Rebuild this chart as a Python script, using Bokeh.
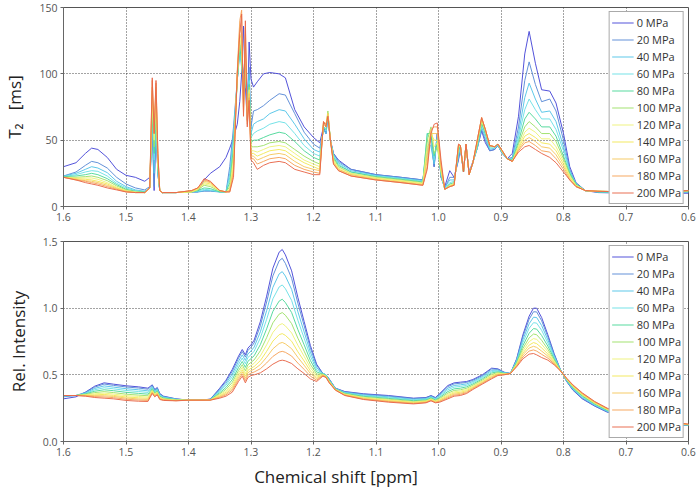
from bokeh.plotting import figure
from bokeh.layouts import column
from bokeh.models import Range1d, FixedTicker, PrintfTickFormatter, Div
from bokeh.embed import file_html
from bokeh.resources import INLINE

pressures = ["0 MPa", "20 MPa", "40 MPa", "60 MPa", "80 MPa", "100 MPa",
             "120 MPa", "140 MPa", "160 MPa", "180 MPa", "200 MPa"]
colors = ["#4a4ad8", "#5b8bd6", "#55c5e8", "#6ee0e6", "#4fd89a", "#9ee06a",
          "#eef27a", "#f2e85a", "#f5c860", "#f5a35a", "#e8674a"]

x_ticks = [1.6, 1.5, 1.4, 1.3, 1.2, 1.1, 1.0, 0.9, 0.8, 0.7, 0.6]
t2_ticks = [0, 50, 100, 150]
ri_ticks = [0.0, 0.5, 1.0, 1.5]

# ---------- top panel: T2 [ms] ----------
ppm_t = [1.600, 1.580, 1.565, 1.555, 1.545, 1.530, 1.515, 1.500, 1.485, 1.470,
         1.462, 1.458, 1.455, 1.452, 1.449, 1.446, 1.442,
         1.420, 1.395, 1.385, 1.375, 1.365, 1.350, 1.340,
         1.334, 1.328, 1.322, 1.318, 1.315, 1.312, 1.309, 1.306, 1.303, 1.300, 1.296,
         1.290, 1.280, 1.270, 1.255, 1.245, 1.230, 1.215, 1.200, 1.190,
         1.184, 1.180, 1.177, 1.173, 1.168, 1.160, 1.140, 1.100, 1.060, 1.025,
         1.018, 1.012, 1.007, 1.002, 0.996, 0.990, 0.982, 0.975,
         0.968, 0.965, 0.960, 0.956, 0.951, 0.945, 0.938, 0.931, 0.925, 0.918, 0.910, 0.905, 0.898, 0.890, 0.882,
         0.872, 0.862, 0.855, 0.845, 0.835, 0.822, 0.812, 0.800, 0.790, 0.780, 0.765, 0.745, 0.700, 0.650, 0.600]

t2_0 = [30, 33, 40, 44, 43, 37, 28, 23.5, 22, 19,
        22, 60, 12, 58, 25, 12, 10.5,
        10.5, 11, 11, 20, 25, 30, 37,
        44, 52, 62, 79, 100, 136, 90, 65, 124, 96, 90,
        94, 100, 101, 100, 97, 73, 60, 52, 48,
        60, 55, 68, 50, 40, 35, 28, 24, 22, 20,
        40, 55, 30, 55, 22, 15, 27, 22,
        35, 44, 26, 46, 26, 34, 44, 57, 48, 42, 43, 46, 40, 36, 40,
        68, 115, 132, 108, 88, 87, 78, 55, 30, 18, 12, 10.5, 10, 10, 10]
t2_20 = [23, 26, 31, 34, 33, 29, 22, 17, 14, 12.5,
         15, 62, 15, 60, 25, 12, 10.5,
         10.5, 11, 11, 11.5, 11.5, 11, 11,
         30, 60, 95, 120, 110, 100, 115, 80, 105, 60, 72,
         73, 76, 80, 85, 84, 70, 56, 47, 44,
         58, 55, 68, 50, 40, 34, 28, 24, 22, 20,
         45, 50, 30, 55, 22, 14, 22, 22,
         36, 44, 26, 46, 25, 33, 44, 58, 50, 42, 43, 46, 40, 36, 37,
         60, 95, 109, 92, 79, 81, 72, 50, 28, 17, 12, 11, 10.5, 10.5, 10.5]
t2_40 = [23, 25, 28, 30, 29, 25.5, 19, 15, 12.5, 11.5,
         14, 65, 25, 63, 25, 12, 10.5,
         10.5, 11, 11, 12, 12, 11, 11,
         25, 55, 95, 115, 105, 95, 112, 78, 100, 55, 62,
         64, 66, 70, 73, 72, 62, 51, 43, 41,
         58, 55, 68, 50, 39, 33, 27, 23.5, 21.5, 19.5,
         50, 45, 32, 52, 23, 14, 20, 20,
         38, 45, 26, 47, 25, 33, 44, 60, 52, 43, 44, 46, 40, 36, 36,
         55, 82, 93, 81, 71, 72, 64, 45, 27, 17, 12, 11, 10.5, 10.5, 11]
t2_60 = [22.5, 24, 26, 27, 26.5, 23, 17.5, 14, 12, 11,
         14, 66, 35, 65, 25, 12, 10.5,
         10.5, 11, 11.5, 13, 12.5, 11, 11,
         22, 50, 95, 118, 108, 90, 110, 75, 95, 52, 55,
         57, 59, 62, 64, 63, 55, 46, 40, 38,
         60, 57, 70, 50, 38, 32, 26, 23, 21, 19,
         55, 50, 35, 50, 24, 13, 18, 19,
         40, 45, 26, 47, 25, 33, 45, 62, 54, 44, 44, 46, 41, 36, 35,
         52, 73, 81, 73, 66, 66, 58, 42, 26, 17, 12, 11, 10.5, 11, 11]
t2_80 = [22.5, 23, 24, 25, 24, 21, 16.5, 13, 11.5, 11,
         14, 70, 40, 70, 28, 12, 10.5,
         10.5, 11, 12, 14, 13.5, 11, 11,
         18, 45, 95, 120, 110, 85, 108, 73, 92, 48, 50,
         50, 52, 54, 56, 55, 49, 42, 37, 35,
         60, 58, 70, 50, 37, 31, 26, 22.5, 20.5, 18.5,
         55, 55, 38, 48, 25, 13, 17, 18,
         42, 46, 26, 47, 24, 33, 46, 63, 55, 45, 45, 47, 41, 36, 35,
         49, 66, 71, 66, 60, 60, 53, 38, 25, 17, 12, 11, 11, 11, 11.5]
t2_100 = [22, 22, 22.5, 23, 22, 19.5, 15.5, 12.5, 11, 10.5,
          14, 75, 45, 75, 30, 12, 10.5,
          10.5, 11, 12.5, 16, 15, 11.5, 11,
          15, 40, 95, 125, 115, 80, 110, 70, 90, 45, 45,
          45, 46, 48, 49, 48, 43, 38, 34, 32,
          62, 60, 72, 50, 36, 30, 25, 22, 20, 18,
          50, 60, 40, 45, 26, 13, 16, 17,
          44, 46, 26, 47, 24, 33, 47, 64, 56, 46, 45, 47, 41, 36, 34,
          47, 60, 64, 60, 55, 55, 49, 36, 24, 16, 12, 11.5, 11, 11, 11.5]
t2_120 = [22, 21.5, 21.5, 21.5, 20.5, 18, 14.5, 12, 11, 10.5,
          14, 82, 50, 82, 32, 12, 10.5,
          10.5, 11, 13, 17, 16, 12, 11,
          13, 35, 98, 128, 120, 78, 115, 68, 88, 42, 42,
          41, 43, 45, 46, 45, 40, 35, 32, 30,
          62, 60, 70, 50, 35, 29, 25, 21.5, 19.5, 17.5,
          45, 58, 45, 48, 27, 13, 16, 17,
          45, 46, 26, 47, 24, 33, 48, 65, 57, 46, 45, 47, 41, 36, 34,
          45, 56, 59, 56, 51, 51, 45, 34, 23, 16, 12, 11.5, 11, 11, 12]
t2_140 = [22, 21, 20.5, 20, 19, 17, 14, 11.5, 10.5, 10.5,
          14, 87, 55, 86, 35, 12, 10.5,
          10.5, 11, 13, 18, 17, 12, 11,
          12, 30, 100, 130, 125, 75, 120, 66, 86, 40, 40,
          38, 40, 42, 43, 42, 37, 33, 30, 28,
          63, 62, 70, 50, 34, 28, 24, 21, 19, 17,
          40, 55, 50, 50, 28, 13, 15, 17,
          46, 46, 26, 47, 24, 33, 49, 66, 58, 46, 45, 47, 42, 36, 34,
          44, 53, 55, 52, 48, 47, 42, 32, 22, 16, 12, 11.5, 11, 11, 12]
t2_160 = [22, 20.5, 19.5, 19, 18, 16, 13.5, 11.5, 10.5, 10.5,
          14, 90, 55, 90, 38, 12, 10.5,
          10.5, 12, 14, 19, 18, 12, 11,
          12, 28, 100, 135, 130, 72, 125, 64, 85, 38, 38,
          35, 37, 39, 40, 39, 34, 30, 28, 27,
          63, 62, 70, 50, 33, 28, 24, 20.5, 18.5, 16.5,
          35, 55, 55, 55, 30, 13, 15, 16,
          46, 46, 26, 47, 24, 33, 50, 67, 58, 46, 45, 47, 42, 36, 34,
          43, 50, 52, 49, 45, 44, 39, 30, 21, 15, 12, 11.5, 11, 11, 12]
t2_180 = [22, 20, 19, 18, 17, 15, 13, 11, 10.5, 10.5,
          14, 95, 55, 93, 40, 12, 10.5,
          10.5, 12, 14, 20, 18.5, 12, 11,
          11, 25, 102, 140, 148, 70, 135, 62, 82, 36, 36,
          32, 34, 36, 37, 36, 31, 28, 26, 25,
          64, 62, 68, 50, 32, 27, 23, 20, 18, 16,
          30, 58, 60, 60, 32, 13, 15, 16,
          47, 46, 26, 47, 24, 33, 50, 67, 58, 46, 45, 47, 42, 36, 34,
          42, 48, 49, 46, 42, 41, 36, 28, 20, 15, 12, 11.5, 11, 11, 12]
t2_200 = [22, 20, 18, 17, 16, 14, 12.5, 11, 10.5, 10.5,
          14, 97, 55, 95, 40, 12, 10.5,
          10.5, 12, 14, 21, 19, 12, 11,
          11, 22, 100, 130, 145, 68, 140, 60, 80, 35, 33,
          28, 31, 33, 34, 33, 28, 26, 24, 24,
          64, 60, 68, 50, 32, 27, 23, 20, 18, 16,
          28, 55, 62, 63, 35, 13, 15, 16,
          47, 46, 26, 47, 24, 33, 50, 67, 58, 46, 45, 47, 42, 36, 34,
          41, 45, 46, 43, 40, 37, 33, 26, 20, 15, 12, 11.5, 11, 11, 12]

# ---------- bottom panel: relative intensity ----------
ppm_b = [1.600, 1.580, 1.565, 1.550, 1.535, 1.520, 1.500, 1.480, 1.465,
         1.458, 1.454, 1.450, 1.446, 1.440, 1.420, 1.400, 1.380, 1.365,
         1.350, 1.340, 1.330, 1.320, 1.314, 1.309, 1.305, 1.300, 1.295,
         1.285, 1.275, 1.265, 1.255, 1.250, 1.245, 1.235, 1.225, 1.215, 1.205, 1.195,
         1.185, 1.180, 1.175, 1.165, 1.150, 1.120, 1.080, 1.040,
         1.020, 1.012, 1.005, 0.998, 0.985, 0.975, 0.965, 0.955, 0.945, 0.930, 0.915, 0.905, 0.895, 0.885,
         0.875, 0.865, 0.855, 0.848, 0.843, 0.835, 0.825, 0.815, 0.805, 0.795, 0.785, 0.770, 0.750, 0.730, 0.700, 0.650, 0.600]

ri_0 = [.32, .335, .37, .415, .44, .43, .418, .41, .40,
        .425, .39, .405, .36, .34, .32, .31, .31, .318,
        .40, .46, .54, .64, .69, .65, .70, .725, .76,
        .90, 1.09, 1.30, 1.42, 1.44, 1.40, 1.28, 1.08, .90, .72, .58,
        .51, .50, .47, .40, .375, .358, .345, .325,
        .33, .345, .33, .36, .42, .44, .445, .45, .465, .50, .55, .545, .52, .51,
        .62, .80, .94, 1.0, 1.0, .93, .80, .66, .54, .45, .385, .32, .265, .22, .18, .14, .12]
ri_20 = [.335, .345, .368, .408, .431, .421, .409, .401, .392,
         .42, .386, .401, .356, .337, .319, .31, .31, .317,
         .394, .45, .526, .625, .674, .633, .682, .707, .739,
         .869, 1.046, 1.242, 1.355, 1.374, 1.336, 1.224, 1.037, .869, .70, .57,
         .51, .50, .468, .399, .373, .355, .341, .322,
         .327, .342, .327, .355, .412, .432, .437, .443, .459, .494, .544, .541, .518, .51,
         .615, .786, .917, .973, .972, .906, .785, .653, .539, .452, .388, .324, .268, .222, .182, .142, .121]
ri_40 = [.34, .345, .364, .398, .417, .408, .396, .388, .38,
         .412, .379, .394, .351, .334, .317, .31, .31, .316,
         .385, .436, .506, .602, .65, .608, .656, .679, .708,
         .823, .981, 1.156, 1.257, 1.274, 1.241, 1.141, .973, .822, .67, .554,
         .51, .50, .465, .397, .369, .349, .335, .316,
         .322, .337, .322, .347, .40, .42, .425, .432, .45, .486, .534, .535, .516, .51,
         .608, .764, .883, .932, .93, .87, .762, .643, .538, .455, .393, .329, .272, .226, .184, .144, .122]
ri_60 = [.345, .345, .36, .388, .403, .395, .383, .375, .368,
         .404, .372, .387, .346, .33, .315, .31, .31, .315,
         .376, .422, .486, .579, .626, .583, .63, .651, .677,
         .777, .916, 1.07, 1.159, 1.174, 1.146, 1.058, .909, .775, .64, .538,
         .51, .498, .462, .395, .365, .344, .329, .311,
         .317, .332, .317, .339, .388, .408, .413, .421, .441, .478, .524, .529, .514, .51,
         .601, .742, .849, .891, .888, .834, .739, .633, .537, .458, .398, .335, .276, .23, .186, .146, .123]
ri_80 = [.345, .345, .357, .377, .388, .381, .369, .361, .355,
         .396, .365, .38, .34, .326, .313, .31, .31, .314,
         .366, .406, .464, .555, .60, .556, .601, .622, .643,
         .727, .845, .976, 1.053, 1.067, 1.042, .967, .839, .725, .608, .522,
         .505, .495, .458, .393, .361, .339, .323, .306,
         .312, .327, .312, .331, .375, .395, .40, .41, .431, .469, .514, .523, .511, .51,
         .593, .719, .812, .847, .843, .795, .715, .622, .536, .461, .403, .341, .281, .234, .189, .149, .124]
ri_100 = [.345, .345, .353, .367, .374, .367, .355, .348, .343,
          .388, .359, .374, .334, .322, .311, .31, .31, .313,
          .357, .392, .443, .532, .576, .53, .575, .594, .612,
          .681, .779, .89, .955, .967, .947, .884, .775, .678, .578, .506,
          .505, .493, .455, .391, .358, .333, .317, .30,
          .307, .322, .307, .323, .363, .383, .388, .399, .422, .46, .504, .517, .509, .51,
          .586, .697, .778, .806, .801, .759, .692, .612, .534, .464, .408, .346, .285, .237, .191, .151, .125]
ri_120 = [.345, .345, .35, .358, .363, .356, .344, .338, .333,
          .381, .353, .368, .33, .319, .31, .31, .31, .313,
          .35, .38, .426, .513, .556, .509, .553, .571, .586,
          .642, .725, .818, .874, .884, .867, .814, .722, .639, .553, .493,
          .50, .49, .452, .39, .355, .329, .312, .296,
          .303, .318, .303, .316, .353, .373, .378, .39, .415, .453, .496, .512, .507, .51,
          .58, .679, .749, .772, .766, .729, .673, .603, .533, .467, .412, .351, .288, .24, .193, .153, .126]
ri_140 = [.345, .345, .347, .35, .353, .346, .334, .328, .324,
          .376, .348, .363, .326, .316, .309, .31, .31, .312,
          .343, .369, .411, .496, .538, .49, .533, .55, .562,
          .607, .676, .753, .801, .809, .796, .752, .673, .604, .53, .481,
          .50, .488, .45, .389, .352, .325, .307, .292,
          .30, .315, .30, .311, .344, .364, .369, .382, .408, .447, .489, .507, .505, .51,
          .574, .663, .723, .742, .734, .702, .656, .595, .532, .469, .416, .355, .291, .243, .195, .155, .127]
ri_160 = [.345, .345, .345, .344, .343, .338, .326, .319, .316,
          .37, .344, .359, .322, .313, .307, .31, .31, .311,
          .337, .359, .397, .48, .522, .474, .515, .532, .542,
          .577, .632, .695, .735, .743, .732, .696, .631, .572, .51, .471,
          .495, .485, .447, .388, .35, .322, .303, .289,
          .296, .311, .296, .305, .336, .356, .361, .374, .402, .441, .483, .503, .503, .51,
          .57, .649, .701, .714, .706, .678, .64, .589, .532, .471, .419, .358, .294, .245, .197, .157, .128]
ri_180 = [.345, .345, .342, .337, .334, .329, .317, .311, .308,
          .365, .339, .354, .319, .311, .306, .31, .31, .311,
          .331, .35, .384, .465, .506, .457, .498, .513, .521,
          .546, .589, .638, .67, .676, .669, .641, .588, .541, .49, .46,
          .495, .483, .444, .386, .347, .318, .299, .285,
          .293, .308, .293, .30, .328, .348, .353, .367, .396, .436, .476, .499, .502, .51,
          .565, .634, .678, .687, .678, .654, .625, .582, .531, .473, .422, .361, .297, .248, .198, .158, .129]
ri_200 = [.345, .345, .34, .33, .325, .32, .308, .302, .30,
          .36, .335, .35, .315, .308, .305, .31, .31, .31,
          .325, .34, .37, .45, .49, .44, .48, .495, .50,
          .515, .545, .58, .605, .61, .605, .585, .545, .51, .47, .45,
          .49, .48, .44, .385, .345, .315, .295, .282,
          .29, .305, .29, .295, .32, .34, .345, .36, .39, .43, .47, .495, .50, .51,
          .56, .62, .655, .66, .65, .63, .61, .575, .53, .475, .425, .365, .30, .25, .20, .16, .13]

t2_series = [t2_0, t2_20, t2_40, t2_60, t2_80, t2_100, t2_120, t2_140, t2_160, t2_180, t2_200]
ri_series = [ri_0, ri_20, ri_40, ri_60, ri_80, ri_100, ri_120, ri_140, ri_160, ri_180, ri_200]

FONT = "Open Sans"
X_LABEL = "Chemical shift [ppm]"


def make_panel(height, ymax, yticks, yfmt, ylabel, border_top, border_bottom):
    p = figure(width=697, height=height, x_range=Range1d(1.6, 0.6),
               y_range=Range1d(0, ymax), output_backend="svg", toolbar_location=None,
               min_border_left=55, min_border_right=9,
               min_border_top=border_top, min_border_bottom=border_bottom)
    p.background_fill_color = "white"
    p.border_fill_color = "white"
    p.outline_line_color = "#555555"
    p.outline_line_width = 1
    for ax in (p.xaxis[0], p.yaxis[0]):
        ax.axis_line_color = "#666666"
        ax.major_tick_line_color = "#666666"
        ax.major_tick_in = 0
        ax.major_tick_out = 3
        ax.minor_tick_line_color = None
        ax.major_label_text_font = FONT
        ax.major_label_text_font_size = "10.5px"
        ax.major_label_text_color = "#555555"
        ax.major_label_standoff = 3
        ax.axis_label_text_font = FONT
        ax.axis_label_text_font_style = "normal"
        ax.axis_label_text_font_size = "17px"
        ax.axis_label_text_color = "#222222"
    p.xaxis[0].ticker = FixedTicker(ticks=x_ticks)
    p.xaxis[0].formatter = PrintfTickFormatter(format="%.1f")
    p.yaxis[0].ticker = FixedTicker(ticks=yticks)
    p.yaxis[0].formatter = PrintfTickFormatter(format=yfmt)
    p.yaxis[0].axis_label = ylabel
    p.yaxis[0].axis_label_standoff = 10
    for g in (p.xgrid[0], p.ygrid[0]):
        g.grid_line_color = "#333333"
        g.grid_line_dash = "1 2"
        g.grid_line_alpha = 0.9
    return p


p1 = make_panel(226, 150, t2_ticks, "%d", "T\u2082\u00a0\u00a0\u00a0[ms]", 7, 20)
p2 = make_panel(241, 1.5, ri_ticks, "%.1f", "Rel. Intensity", 15, 26)

for p, xs, series in ((p1, ppm_t, t2_series), (p2, ppm_b, ri_series)):
    for lab, col, ys in zip(pressures, colors, series):
        p.line(xs, ys, line_color=col, line_width=1, line_alpha=0.95, legend_label=lab)
    lg = p.legend[0]
    lg.location = "top_right"
    lg.margin = 4
    lg.padding = 2
    lg.spacing = 0
    lg.glyph_height = 17
    lg.label_height = 17
    lg.glyph_width = 22
    lg.label_standoff = 3
    lg.label_text_font = FONT
    lg.label_text_font_size = "11px"
    lg.label_text_color = "#333333"
    lg.border_line_color = "#555555"
    lg.border_line_width = 1
    lg.background_fill_color = "white"
    lg.background_fill_alpha = 1.0

# x-axis title of the lower panel, in its own strip under the tick labels
xtitle = Div(text=X_LABEL, width=672, height=20, margin=0,
             styles={"text-align": "center", "font-family": "'Open Sans', sans-serif",
                     "font-size": "17px", "line-height": "20px", "color": "#222222",
                     "white-space": "nowrap", "padding": "0px"})

layout = column(p1, p2, xtitle, spacing=0,
                styles={"position": "absolute", "left": "0px", "top": "0px"})

open("out.html", "w").write(file_html(layout, INLINE))
